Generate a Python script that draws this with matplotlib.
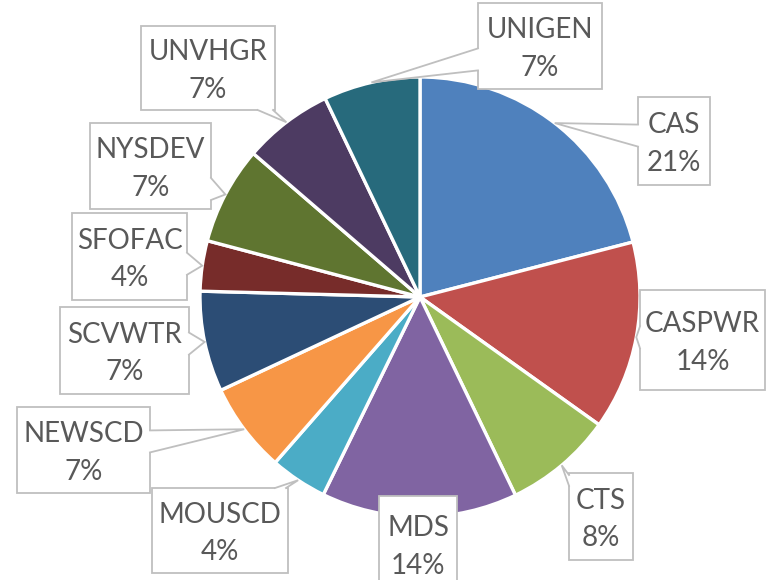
import numpy as np
import matplotlib.pyplot as plt
from matplotlib.patches import Rectangle, Polygon

# slice shares (percent), clockwise from 12 o'clock
names = ['CAS', 'CASPWR', 'CTS', 'MDS', 'MOUSCD', 'NEWSCD',
         'SCVWTR', 'SFOFAC', 'NYSDEV', 'UNVHGR', 'UNIGEN']
shares = [21.0, 13.9, 8.0, 14.4, 4.2, 6.6, 7.4, 3.7, 7.2, 6.6, 7.1]

colors = ['#4F81BD', '#C0504D', '#9BBB59', '#8064A2', '#4BACC6', '#F79646',
          '#2C4D75', '#772C2A', '#5F7530', '#4D3B62', '#276A7C']

# label boxes in image pixels (left, top, right, bottom) - layout only
boxes = [(638, 97, 710, 185), (640, 290, 765, 390), (569, 473, 633, 560),
         (379, 496, 457, 592), (152, 488, 288, 573), (17, 407, 150, 493),
         (60, 307, 189, 394), (72, 213, 187, 300), (90, 123, 211, 209),
         (141, 26, 275, 110), (478, 3, 602, 89)]

W, H = 784, 580
CX, CY, R = 420, 297, 220
GREY = '#bfbfbf'

fig = plt.figure(figsize=(W / 100, H / 100), dpi=100)
ax = fig.add_axes([0, 0, 1, 1])

wedges, _ = ax.pie(shares, colors=colors, startangle=90, counterclock=False,
                   center=(CX, H - CY), radius=R,
                   wedgeprops=dict(edgecolor='white', linewidth=2.4))
ax.set_xlim(0, W)
ax.set_ylim(0, H)
ax.set_aspect('equal')
ax.axis('off')

total = sum(shares)
hw = 11  # half width of the callout base
for w, name, val, (l, t, r, b) in zip(wedges, names, shares, boxes):
    y0, y1 = H - b, H - t
    ax.add_patch(Rectangle((l, y0), r - l, y1 - y0, fc='white', ec=GREY,
                           lw=1.3, zorder=3))
    cx, cy = (l + r) / 2, (y0 + y1) / 2
    ax.text(cx, cy - 3, f'{name}\n{val / total:.0%}', ha='center', va='center',
            fontsize=20, family='Lato', color='#595959', linespacing=1.55,
            zorder=6)

    mid = np.deg2rad((w.theta1 + w.theta2) / 2)
    tx, ty = CX + R * np.cos(mid), H - CY + R * np.sin(mid)
    if l <= tx <= r and y0 <= ty <= y1:
        continue
    dx, dy = tx - cx, ty - cy
    sx = (r - l) / 2 / abs(dx) if dx else np.inf
    sy = (y1 - y0) / 2 / abs(dy) if dy else np.inf
    s = min(sx, sy)
    ex, ey = cx + s * dx, cy + s * dy
    if sx < sy:
        inward = -2 * np.sign(dx)
        p1 = (ex, np.clip(ey - hw, y0 + 2, y1 - 2))
        p2 = (ex, np.clip(ey + hw, y0 + 2, y1 - 2))
        q1, q2 = (ex + inward, p1[1]), (ex + inward, p2[1])
    else:
        inward = -2 * np.sign(dy)
        p1 = (np.clip(ex - hw, l + 2, r - 2), ey)
        p2 = (np.clip(ex + hw, l + 2, r - 2), ey)
        q1, q2 = (p1[0], ey + inward), (p2[0], ey + inward)
    ax.add_patch(Polygon([q1, p1, (tx, ty), p2, q2], closed=True,
                         fc='white', ec='none', zorder=4))
    ax.plot([p1[0], tx, p2[0]], [p1[1], ty, p2[1]], color=GREY, lw=1.3,
            zorder=5, solid_joinstyle='miter')

fig.savefig('out.png', dpi=100)
